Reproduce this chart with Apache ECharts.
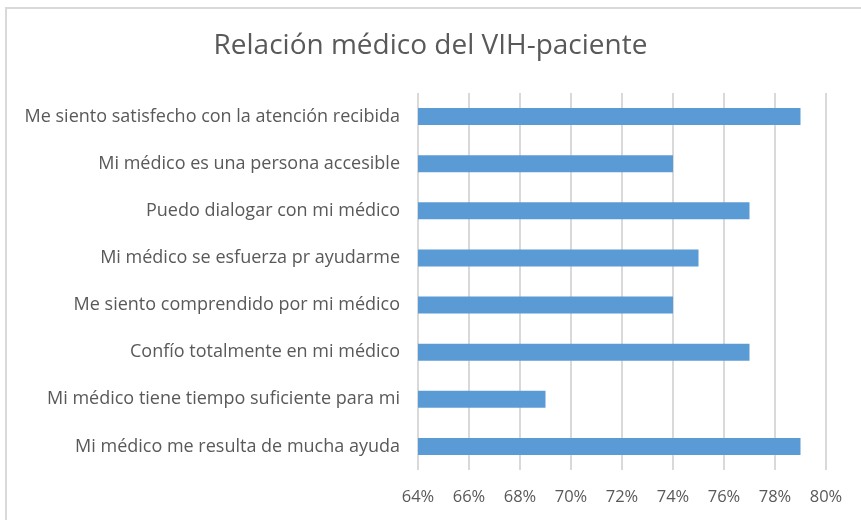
<!DOCTYPE html>
<html>
<head>
<meta charset="utf-8">
<title>Relación médico del VIH-paciente</title>
<script src="https://cdn.jsdelivr.net/npm/echarts@6/dist/echarts.min.js"></script>
<style>
  html, body { margin: 0; padding: 0; background: #fff; }
  #chart { width: 861px; height: 520px; }
</style>
</head>
<body>
<div id="chart"></div>
<script>
// categorias de arriba hacia abajo (eje y con inverse)
var categorias = [
    'Me siento satisfecho con la atención recibida',
    'Mi médico es una persona accesible',
    'Puedo dialogar con mi médico',
    'Mi médico se esfuerza pr ayudarme',
    'Me siento comprendido por mi médico',
    'Confío totalmente en mi médico',
    'Mi médico tiene tiempo suficiente para mi',
    'Mi médico me resulta de mucha ayuda'
];
var valores = [79, 74, 77, 75, 74, 77, 69, 79];
var ejeMin = 64;
var ejeMax = 80;
var ejePaso = 2;

var myChart = echarts.init(document.getElementById('chart'));
var fuente = 'Open Sans';

myChart.setOption({
    animation: false,
    graphic: [{
        type: 'rect',
        shape: { x: 6, y: 8, width: 900, height: 600 },
        style: { fill: 'none', stroke: '#d9d9d9', lineWidth: 2 },
        silent: true
    }],
    title: {
        text: 'Relación médico del VIH-paciente',
        left: 'center',
        top: 27,
        textStyle: { fontFamily: fuente, fontSize: 28, fontWeight: 'normal', color: '#595959' }
    },
    grid: { left: 418, right: 35, top: 93, bottom: 50, containLabel: false },
    xAxis: {
        type: 'value',
        min: ejeMin,
        max: ejeMax,
        interval: ejePaso,
        axisLine: { show: false },
        axisTick: { show: false },
        splitLine: { lineStyle: { color: '#d9d9d9', width: 2 } },
        axisLabel: {
            formatter: '{value}%',
            margin: 19,
            fontFamily: fuente,
            fontSize: 16.5,
            color: '#595959'
        }
    },
    yAxis: {
        type: 'category',
        inverse: true,
        data: categorias,
        axisLine: { show: false },
        axisTick: { show: false },
        axisLabel: {
            margin: 18,
            fontFamily: fuente,
            fontSize: 18,
            color: '#595959'
        }
    },
    series: [{
        type: 'bar',
        data: valores,
        barWidth: 17,
        itemStyle: { color: '#5b9bd5' }
    }]
});
</script>
</body>
</html>
